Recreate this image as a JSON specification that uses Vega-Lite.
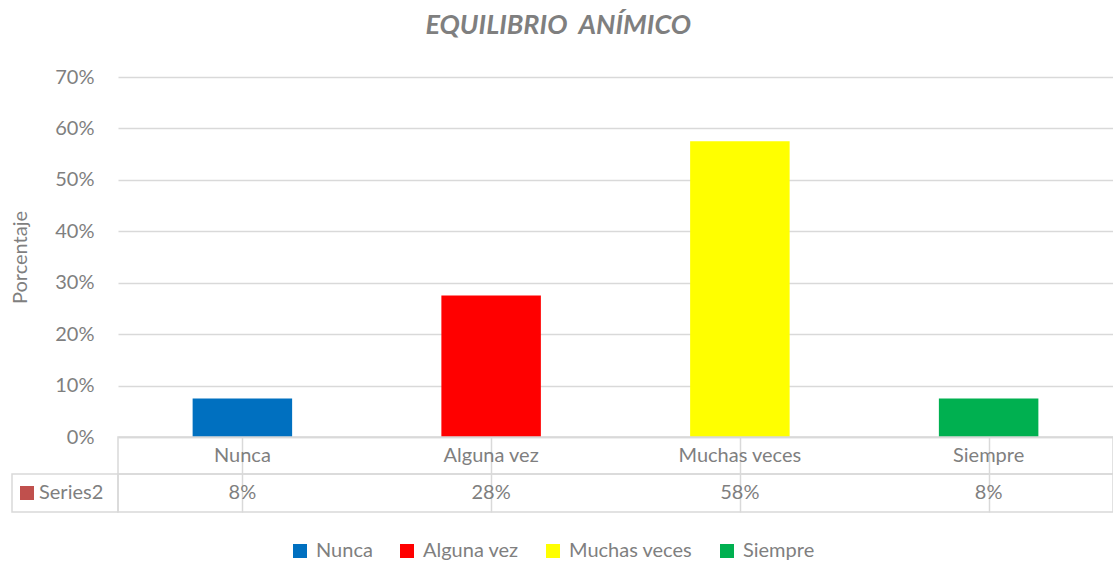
{
  "$schema": "https://vega.github.io/schema/vega-lite/v6.json",
  "padding": {"left": 10, "top": 12, "right": 0, "bottom": 0},
  "background": "white",
  "title": {"text": "EQUILIBRIO\u00a0 ANÍMICO", "font": "Lato", "fontSize": 27, "fontStyle": "italic", "fontWeight": "bold", "color": "#7f7f7f", "anchor": "middle", "offset": 27, "dx": -4},
  "config": {
    "view": {"stroke": null},
    "font": "Lato",
    "axis": {"labelFont": "Lato", "titleFont": "Lato", "labelColor": "#7f7f7f", "titleColor": "#7f7f7f"},
    "legend": {"labelFont": "Lato"}
  },
  "datasets": {
    "main": [
      {"cat": "Nunca", "value": 0.075, "label": "8%", "series": "Series2"},
      {"cat": "Alguna vez", "value": 0.275, "label": "28%", "series": "Series2"},
      {"cat": "Muchas veces", "value": 0.575, "label": "58%", "series": "Series2"},
      {"cat": "Siempre", "value": 0.075, "label": "8%", "series": "Series2"}
    ],
    "header": [{"series": "Series2"}]
  },
  "bounds": "flush",
  "columns": 2,
  "spacing": 0,
  "concat": [
    {
      "width": 106, "height": 360,
      "data": {"name": "header"},
      "mark": {"type": "text", "opacity": 0},
      "encoding": {"text": {"value": ""}}
    },
    {
      "width": 995, "height": 360,
      "data": {"name": "main"},
      "mark": {"type": "bar"},
      "encoding": {
        "x": {"field": "cat", "type": "nominal", "sort": ["Nunca", "Alguna vez", "Muchas veces", "Siempre"],
              "scale": {"paddingInner": 0.6, "paddingOuter": 0.3},
              "axis": {"title": null, "labels": false, "ticks": false, "domain": true, "domainColor": "#d9d9d9", "domainWidth": 1.5}},
        "y": {"field": "value", "type": "quantitative", "scale": {"domain": [0, 0.7]},
              "axis": {"title": "Porcentaje", "format": ".0%", "values": [0, 0.1, 0.2, 0.3, 0.4, 0.5, 0.6, 0.7],
                       "grid": true, "gridColor": "#d9d9d9", "gridWidth": 1.5, "domain": false, "ticks": false,
                       "labelFontSize": 20, "labelPadding": 24, "titleFontSize": 20, "titleFontWeight": "normal", "titlePadding": 24}},
        "color": {"field": "cat", "type": "nominal",
                  "scale": {"domain": ["Nunca", "Alguna vez", "Muchas veces", "Siempre"], "range": ["#0070c0", "#ff0000", "#ffff00", "#00b050"]},
                  "legend": {"title": null, "orient": "none", "legendX": 278, "legendY": 464, "direction": "horizontal", "symbolType": "square", "symbolSize": 196,
                             "symbolStrokeWidth": 0, "labelFontSize": 20, "labelColor": "#7f7f7f", "columnPadding": 24, "labelOffset": 6}}
      }
    },
    {
      "width": 106, "height": 37,
      "data": {"name": "header"},
      "mark": {"type": "text", "opacity": 0},
      "encoding": {"text": {"value": ""}}
    },
    {
      "width": 995, "height": 37,
      "view": {"stroke": "#d9d9d9", "strokeWidth": 1.5},
      "data": {"name": "main"},
      "mark": {"type": "text", "fontSize": 20, "color": "#7f7f7f"},
      "encoding": {
        "x": {"field": "cat", "type": "nominal", "sort": ["Nunca", "Alguna vez", "Muchas veces", "Siempre"],
              "scale": {"paddingInner": 0, "paddingOuter": 0},
              "axis": {"title": null, "labels": false, "ticks": false, "domain": false, "grid": true, "bandPosition": 0, "gridColor": "#d9d9d9", "gridWidth": 1.5}},
        "text": {"field": "cat"}
      }
    },
    {
      "width": 106, "height": 38,
      "view": {"stroke": "#d9d9d9", "strokeWidth": 1.5},
      "data": {"name": "header"},
      "layer": [
        {"mark": {"type": "square", "color": "#c0504d", "opacity": 1, "size": 196, "xOffset": -38}},
        {"mark": {"type": "text", "fontSize": 20, "color": "#7f7f7f", "align": "left", "dx": -26},
         "encoding": {"text": {"field": "series"}}}
      ],
      "encoding": {
        "x": {"field": "series", "type": "nominal", "axis": null}
      }
    },
    {
      "width": 995, "height": 38,
      "view": {"stroke": "#d9d9d9", "strokeWidth": 1.5},
      "data": {"name": "main"},
      "mark": {"type": "text", "fontSize": 20, "color": "#7f7f7f"},
      "encoding": {
        "x": {"field": "cat", "type": "nominal", "sort": ["Nunca", "Alguna vez", "Muchas veces", "Siempre"],
              "scale": {"paddingInner": 0, "paddingOuter": 0},
              "axis": {"title": null, "labels": false, "ticks": false, "domain": false, "grid": true, "bandPosition": 0, "gridColor": "#d9d9d9", "gridWidth": 1.5}},
        "text": {"field": "label"}
      }
    }
  ]
}
